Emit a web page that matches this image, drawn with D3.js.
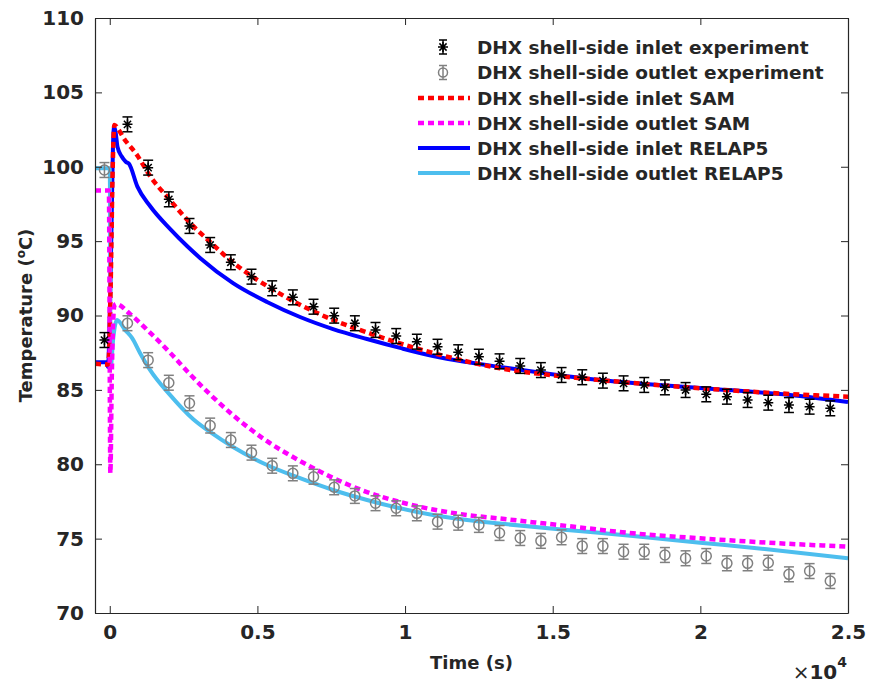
<!DOCTYPE html>
<html>
<head>
<meta charset="utf-8">
<script src="https://cdn.jsdelivr.net/npm/d3@7"></script>
<style>
  body { margin: 0; background: #fff; }
  text { font-family: "DejaVu Sans", sans-serif; font-weight: bold; fill: #262626; }
</style>
</head>
<body>
<div id="chart"></div>
<script>
// experiment sample times (s) and readings (degC)
var expTime = [-180, 600, 1300, 2000, 2700, 3400, 4100, 4800, 5500, 6200, 6900, 7600, 8300, 9000,
    9700, 10400, 11100, 11800, 12500, 13200, 13900, 14600, 15300, 16000, 16700, 17400, 18100,
    18800, 19500, 20200, 20900, 21600, 22300, 23000, 23700, 24400];
var inletExp = [88.35, 102.85, 99.94, 97.81, 96.02, 94.74, 93.58, 92.61, 91.83, 91.22, 90.59, 89.99,
    89.48, 89.03, 88.62, 88.24, 87.90, 87.53, 87.23, 86.92, 86.61, 86.33, 86.0, 85.85, 85.62, 85.44,
    85.33, 85.17, 84.99, 84.70, 84.54, 84.32, 84.14, 83.98, 83.87, 83.76];
var outletExp = [99.78, 89.48, 87.0, 85.48, 84.10, 82.6, 81.63, 80.78, 79.90, 79.39, 79.16, 78.45,
    77.87, 77.38, 77.04, 76.70, 76.14, 76.07, 75.92, 75.38, 75.04, 74.85, 75.09, 74.50, 74.50, 74.12,
    74.12, 73.90, 73.68, 73.83, 73.34, 73.34, 73.38, 72.60, 72.82, 72.15];
var errHalf = 0.5;

// SAM results
var samInletT = [-500, -50, 30, 100, 154, 300, 448, 922, 1363, 2040, 2819, 3293, 4072, 4749, 5495,
    6206, 6883, 7561, 8238, 8915, 9830, 10947, 12098, 13216, 14910, 16603, 19989, 22258, 25000];
var samInletV = [86.75, 86.7, 92, 100, 102.81, 102.5, 102.0, 100.79, 99.38, 97.76, 96.02, 95.14,
    93.73, 92.72, 91.78, 90.97, 90.30, 89.70, 89.19, 88.72, 88.12, 87.48, 86.91, 86.45, 86.0, 85.66,
    85.11, 84.81, 84.54];
var samOutletT = [-500, -30, 20, 70, 150, 211, 685, 1363, 2040, 2717, 3395, 4174, 5326, 6443, 7561,
    8712, 9830, 10947, 12098, 13216, 15485, 17720, 19989, 22258, 25000];
var samOutletV = [98.4, 98.4, 79.4, 86, 90.6, 90.77, 90.1, 88.85, 87.5, 86.05, 84.7, 83.3, 81.55,
    80.22, 79.08, 78.13, 77.46, 76.96, 76.59, 76.35, 75.85, 75.36, 75.02, 74.73, 74.46];

// RELAP5 results
var relapInletT = [-500, -100, -60, 0, 60, 110, 145, 200, 260, 400, 541, 652, 936, 1363, 2040, 2616,
    3056, 4174, 5326, 6443, 7561, 8712, 9830, 10947, 12098, 13216, 14910, 16603, 19989, 23376, 25000];
var relapInletV = [86.85, 86.85, 86.55, 90, 96, 101.5, 102.7, 102.3, 101.35, 100.7, 100.34, 100.2,
    98.66, 97.36, 95.82, 94.67, 93.87, 92.18, 90.91, 89.90, 89.09, 88.42, 87.82, 87.28, 86.87, 86.54,
    86.07, 85.66, 85.13, 84.59, 84.18];
var relapOutletT = [-500, 0, 30, 120, 245, 517, 753, 1024, 1363, 2040, 2819, 3395, 4174, 5326, 6443,
    7561, 8712, 9830, 10947, 12098, 13216, 15485, 17720, 19989, 22258, 25000];
var relapOutletV = [99.9, 99.9, 86.5, 88.5, 89.70, 89.03, 88.49, 87.48, 86.34, 84.66, 83.04, 82.17,
    81.16, 79.95, 79.06, 78.27, 77.60, 77.04, 76.59, 76.25, 76.01, 75.58, 75.18, 74.73, 74.28, 73.68];

var xTicks = [0, 5000, 10000, 15000, 20000, 25000];
var yTicks = [70, 75, 80, 85, 90, 95, 100, 105, 110];

var legendNames = ["DHX shell-side inlet experiment", "DHX shell-side outlet experiment",
    "DHX shell-side inlet SAM", "DHX shell-side outlet SAM",
    "DHX shell-side inlet RELAP5", "DHX shell-side outlet RELAP5"];

var width = 869, height = 686;
var margin = { top: 18, right: 21, bottom: 73, left: 95 };
var axisColor = "#262626";

var svg = d3.select("#chart").append("svg")
    .attr("width", width)
    .attr("height", height);

svg.append("rect").attr("width", width).attr("height", height).attr("fill", "#fff");

var x = d3.scaleLinear().domain([-500, 25000]).range([margin.left, width - margin.right]);
var y = d3.scaleLinear().domain([70, 110]).range([height - margin.bottom, margin.top]);

var plot = svg.append("g");

plot.append("clipPath").attr("id", "clip")
    .append("rect")
    .attr("x", margin.left).attr("y", margin.top)
    .attr("width", x.range()[1] - x.range()[0])
    .attr("height", y.range()[0] - y.range()[1]);

// axes (ticks pointing inward, box on)
var xAxis = d3.axisBottom(x).tickValues(xTicks).tickSizeInner(-7).tickSizeOuter(0)
    .tickFormat(function (d) { return d3.format("")(d / 10000); });
var yAxis = d3.axisLeft(y).tickValues(yTicks).tickSizeInner(-7).tickSizeOuter(0);

var gx = svg.append("g")
    .attr("transform", "translate(0," + y.range()[0] + ")")
    .call(xAxis);
gx.selectAll("text").attr("y", 12).attr("dy", "0.71em").style("font-size", "20px");

var gy = svg.append("g")
    .attr("transform", "translate(" + margin.left + ",0)")
    .call(yAxis);
gy.selectAll("text").attr("x", -11).style("font-size", "20px");

svg.append("g")
    .attr("transform", "translate(0," + y.range()[1] + ")")
    .call(d3.axisTop(x).tickValues(xTicks).tickSizeInner(-7).tickSizeOuter(0).tickFormat(""));
svg.append("g")
    .attr("transform", "translate(" + x.range()[1] + ",0)")
    .call(d3.axisRight(y).tickValues(yTicks).tickSizeInner(-7).tickSizeOuter(0).tickFormat(""));

svg.selectAll(".domain").attr("stroke", axisColor).attr("stroke-width", 1.2);
svg.selectAll(".tick line").attr("stroke", axisColor).attr("stroke-width", 1);

// axis labels
svg.append("text")
    .attr("x", (x.range()[0] + x.range()[1]) / 2)
    .attr("y", 669)
    .attr("text-anchor", "middle")
    .style("font-size", "18px")
    .text("Time (s)");

var ylab = svg.append("text")
    .attr("transform", "translate(32," + ((y.range()[0] + y.range()[1]) / 2) + ") rotate(-90)")
    .attr("text-anchor", "middle")
    .style("font-size", "18px");
ylab.append("tspan").text("Temperature (");
ylab.append("tspan").attr("dy", -7).style("font-size", "12px").text("o");
ylab.append("tspan").attr("dy", 7).text("C)");

var expo = svg.append("text")
    .attr("x", 847).attr("y", 679)
    .attr("text-anchor", "end")
    .style("font-size", "20px");
expo.append("tspan").style("font-weight", "normal").text("\u00d7");
expo.append("tspan").text("10");
expo.append("tspan").attr("dy", -12).style("font-size", "14px").text("4");

// model curves
var line = d3.line()
    .x(function (d) { return x(d[0]); })
    .y(function (d) { return y(d[1]); })
    .curve(d3.curveMonotoneX);

var series = [
    { t: relapInletT, v: relapInletV, color: "#0000ff", dash: null },
    { t: relapOutletT, v: relapOutletV, color: "#4dbeee", dash: null },
    { t: samInletT, v: samInletV, color: "#ff0000", dash: "6,4" },
    { t: samOutletT, v: samOutletV, color: "#ff00ff", dash: "6,4" }
];

series.forEach(function (s) {
    plot.append("path")
        .datum(d3.zip(s.t, s.v))
        .attr("clip-path", "url(#clip)")
        .attr("fill", "none")
        .attr("stroke", s.color)
        .attr("stroke-width", s.dash ? 4.5 : 4)
        .attr("stroke-dasharray", s.dash)
        .attr("d", line);
});

// experiment markers with error bars
function errorBars(g, data, color) {
    var bar = g.selectAll(null).data(data).enter().append("g")
        .attr("stroke", color).attr("stroke-width", 1.5).attr("fill", "none");
    bar.append("line")
        .attr("x1", function (d) { return x(d[0]); }).attr("x2", function (d) { return x(d[0]); })
        .attr("y1", function (d) { return y(d[1] - errHalf); })
        .attr("y2", function (d) { return y(d[1] + errHalf); });
    [-1, 1].forEach(function (s) {
        bar.append("line")
            .attr("x1", function (d) { return x(d[0]) - 5; }).attr("x2", function (d) { return x(d[0]) + 5; })
            .attr("y1", function (d) { return y(d[1] + s * errHalf); })
            .attr("y2", function (d) { return y(d[1] + s * errHalf); });
    });
    return bar;
}

function star(g, cx, cy) {
    var r = 5, q = 3.6;
    g.append("path")
        .attr("d", "M" + (cx - r) + "," + cy + "h" + 2 * r +
            "M" + cx + "," + (cy - r) + "v" + 2 * r +
            "M" + (cx - q) + "," + (cy - q) + "l" + 2 * q + "," + 2 * q +
            "M" + (cx - q) + "," + (cy + q) + "l" + 2 * q + "," + (-2 * q))
        .attr("stroke", "#000").attr("stroke-width", 1.5);
}

var outG = plot.append("g");
errorBars(outG, d3.zip(expTime, outletExp), "#808080")
    .append("circle")
    .attr("cx", function (d) { return x(d[0]); })
    .attr("cy", function (d) { return y(d[1]); })
    .attr("r", 5);

var inG = plot.append("g");
errorBars(inG, d3.zip(expTime, inletExp), "#000")
    .each(function (d) { star(d3.select(this), x(d[0]), y(d[1])); });

// legend
var legend = svg.append("g");
var rowY = [47, 72.5, 98, 123, 148, 173];
legendNames.forEach(function (name, i) {
    var cy = rowY[i];
    if (i < 2) {
        var g = legend.append("g").attr("stroke", i === 0 ? "#000" : "#808080")
            .attr("stroke-width", 1.5).attr("fill", "none");
        g.append("line").attr("x1", 443).attr("x2", 443).attr("y1", cy - 7).attr("y2", cy + 7);
        g.append("line").attr("x1", 439).attr("x2", 447).attr("y1", cy - 7).attr("y2", cy - 7);
        g.append("line").attr("x1", 439).attr("x2", 447).attr("y1", cy + 7).attr("y2", cy + 7);
        if (i === 0) star(g, 443, cy);
        else g.append("circle").attr("cx", 443).attr("cy", cy).attr("r", 4.5);
    } else {
        var s = series[[2, 3, 0, 1][i - 2]];
        legend.append("line")
            .attr("x1", 418).attr("x2", 470).attr("y1", cy).attr("y2", cy)
            .attr("stroke", s.color).attr("stroke-width", s.dash ? 4.5 : 4)
            .attr("stroke-dasharray", s.dash);
    }
    legend.append("text")
        .attr("x", 477).attr("y", cy + 6.5)
        .style("font-size", "18.5px")
        .text(name);
});
</script>
</body>
</html>
